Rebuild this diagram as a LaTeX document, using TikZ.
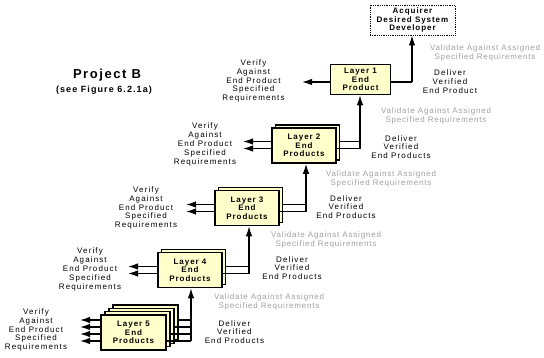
\documentclass[tikz,border=0pt]{standalone}
\usepackage{fontspec}
\setmainfont{Liberation Sans}
\newfontfamily\regsp{Liberation Sans}[LetterSpace=14]
\newfontfamily\graysp{Liberation Sans}[LetterSpace=10]
\newfontfamily\boldsp{Liberation Sans}[LetterSpace=12]
\usetikzlibrary{arrows.meta}
\definecolor{boxfill}{RGB}{255,255,204}
\definecolor{valgray}{RGB}{160,160,160}
\begin{document}
\begin{tikzpicture}[x=1pt,y=-1pt,
  layerbox/.style={draw=black, line width=1.5pt, fill=boxfill, minimum width=64pt,
    minimum height=35pt, inner sep=0pt, align=center,
    font=\boldsp\bfseries\fontsize{8}{8.6}\selectfont},
  acqbox/.style={draw=black, line width=0.8pt, densely dotted, fill=white,
    minimum width=85pt, minimum height=30pt, inner sep=0pt, align=center,
    font=\boldsp\bfseries\fontsize{8}{8.8}\selectfont},
  lbl/.style={inner sep=0pt, align=center, font=\regsp\fontsize{8}{8.8}\selectfont},
  glbl/.style={inner sep=0pt, align=center, text=valgray, font=\graysp\fontsize{8}{9}\selectfont},
  conn/.style={draw=black, line width=1.3pt},
  arr/.style={draw=black, line width=1.3pt, -{Latex[length=10pt,width=6.5pt]}}
]
\useasboundingbox (0,0) rectangle (544,357);

% titles
\node[inner sep=0pt, font=\boldsp\bfseries\fontsize{13}{14}\selectfont] (title) at (107,75) {Project B};
\node[inner sep=0pt, font=\boldsp\bfseries\fontsize{9}{10}\selectfont] (subtitle) at (104,90) {(see Figure 6.2.1a)};

% boxes
\node[acqbox] (acq) at (412.5,20) {Acquirer\\Desired System\\Developer};
\node[layerbox, minimum width=60pt, minimum height=30pt] (l1) at (360.5,79.5) {Layer 1\\End\\Product};

\node[layerbox] (l2b) at (307.5,142.5) {};
\node[layerbox] (l2) at (304,145.5) {Layer 2\\End\\Products};

\node[layerbox] (l3b) at (250.5,205) {};
\node[layerbox] (l3) at (247,208) {Layer 3\\End\\Products};

\node[layerbox] (l4b) at (193.5,267) {};
\node[layerbox] (l4) at (190,270) {Layer 4\\End\\Products};

\node[layerbox, minimum width=65pt] (l5c) at (145.5,322.6) {};
\node[layerbox, minimum width=65pt] (l5b) at (141.5,325.9) {};
\node[layerbox, minimum width=65pt] (l5a) at (137.5,329.2) {};
\node[layerbox, minimum width=65pt] (l5) at (133.5,332.5) {Layer 5\\End\\Products};

% layer 1 connectors
\coordinate (r1) at (412,82);
\draw[conn] (r1 -| l1.east) -- (r1);
\draw[arr] (r1) -- (r1 |- acq.south);
\coordinate (v1) at (302,82);
\draw[arr] (v1 -| l1.west) -- (v1);

% layer 2 connectors
\coordinate (r2a) at (360,141.5);
\coordinate (r2b) at (360,148.5);
\draw[conn] (r2a -| l2b.east) -- (r2a);
\draw[conn] (r2b -| l2.east) -- (r2b);
\draw[arr] (r2b) -- (r2b |- l1.south);
\coordinate (v2a) at (243,141.5);
\coordinate (v2b) at (243,148.5);
\draw[arr] (v2a -| l2.west) -- (v2a);
\draw[arr] (v2b -| l2.west) -- (v2b);

% layer 3 connectors
\coordinate (r3a) at (306,204.5);
\coordinate (r3b) at (306,211.5);
\draw[conn] (r3a -| l3b.east) -- (r3a);
\draw[conn] (r3b -| l3.east) -- (r3b);
\draw[arr] (r3b) -- (r3b |- l2.south);
\coordinate (v3a) at (186,204.5);
\coordinate (v3b) at (186,211.5);
\draw[arr] (v3a -| l3.west) -- (v3a);
\draw[arr] (v3b -| l3.west) -- (v3b);

% layer 4 connectors
\coordinate (r4a) at (249,266.5);
\coordinate (r4b) at (249,273.5);
\draw[conn] (r4a -| l4b.east) -- (r4a);
\draw[conn] (r4b -| l4.east) -- (r4b);
\draw[arr] (r4b) -- (r4b |- l3.south);
\coordinate (v4a) at (128,266.5);
\coordinate (v4b) at (128,273.5);
\draw[arr] (v4a -| l4.west) -- (v4a);
\draw[arr] (v4b -| l4.west) -- (v4b);

% layer 5 connectors
\coordinate (r5a) at (191,320);
\coordinate (r5b) at (191,327);
\coordinate (r5c) at (191,334);
\coordinate (r5d) at (191,341);
\draw[conn] (r5a -| l5c.east) -- (r5a);
\draw[conn] (r5b -| l5b.east) -- (r5b);
\draw[conn] (r5c -| l5a.east) -- (r5c);
\draw[conn] (r5d -| l5.east) -- (r5d);
\draw[arr] (r5d) -- (r5d |- l4.south);
\coordinate (v5a) at (80,320);
\coordinate (v5b) at (80,327);
\coordinate (v5c) at (80,334);
\coordinate (v5d) at (80,341);
\draw[arr] (v5a -| l5.west) -- (v5a);
\draw[arr] (v5b -| l5.west) -- (v5b);
\draw[arr] (v5c -| l5.west) -- (v5c);
\draw[arr] (v5d -| l5.west) -- (v5d);

% verify labels
\node[lbl] (vf1) at (253.5,81) {Verify\\Against\\End Product\\Specified\\Requirements};
\node[lbl] (vf2) at (205,144.5) {Verify\\Against\\End Product\\Specified\\Requirements};
\node[lbl] (vf3) at (146,208) {Verify\\Against\\End Product\\Specified\\Requirements};
\node[lbl] (vf4) at (90,269.5) {Verify\\Against\\End Product\\Specified\\Requirements};
\node[lbl] (vf5) at (36,330) {Verify\\Against\\End Product\\Specified\\Requirements};

% deliver labels
\node[lbl] (dl1) at (450,81.7) {Deliver\\Verified\\End Product};
\node[lbl] (dl2) at (401,147) {Deliver\\Verified\\End Products};
\node[lbl] (dl3) at (346,207) {Deliver\\Verified\\End Products};
\node[lbl] (dl4) at (292,268) {Deliver\\Verified\\End Products};
\node[lbl] (dl5) at (234.4,332) {Deliver\\Verified\\End Products};

% validate labels
\node[glbl] (g1) at (485,53) {Validate Against Assigned\\Specified Requirements};
\node[glbl] (g2) at (436,115.5) {Validate Against Assigned\\Specified Requirements};
\node[glbl] (g3) at (381,178.5) {Validate Against Assigned\\Specified Requirements};
\node[glbl] (g4) at (326,240) {Validate Against Assigned\\Specified Requirements};
\node[glbl] (g5) at (269,301.7) {Validate Against Assigned\\Specified Requirements};
\end{tikzpicture}
\end{document}
